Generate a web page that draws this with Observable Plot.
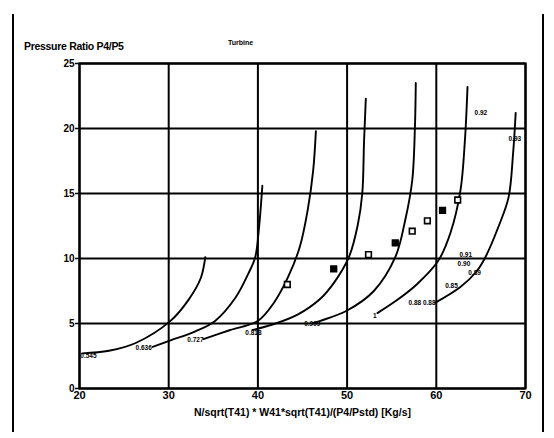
<!DOCTYPE html>
<html>
<head>
<meta charset="utf-8">
<script src="https://cdn.jsdelivr.net/npm/d3@7"></script>
<script src="https://cdn.jsdelivr.net/npm/@observablehq/plot@0.6"></script>
<style>
  html, body { margin: 0; padding: 0; background: #fff; }
  #wrap { position: relative; width: 554px; height: 438px; overflow: hidden; font-family: "Liberation Sans Narrow", "Liberation Sans", Arial, sans-serif; }
  #border { position: absolute; left: 12px; top: 14px; width: 532px; height: 418px; border-left: 2px solid #000; border-right: 2px solid #000; box-sizing: border-box; }
  #title { position: absolute; left: 24px; top: 40px; font-size: 10.5px; font-weight: bold; color: #000; letter-spacing: -0.3px; }
  #sub { position: absolute; left: 228px; top: 39px; font-size: 7px; font-weight: bold; color: #000; }
  #chart { position: absolute; left: 0; top: 0; }
</style>
</head>
<body>
<div id="wrap">
  <div id="border"></div>
  <div id="chart"></div>
  <div id="title">Pressure Ratio P4/P5</div>
  <div id="sub">Turbine</div>
</div>
<script>
// Speed lines (corrected speed)
const curve0545X = [20.3, 23.3, 26.3, 30.2, 32.2, 33.6, 34.1];
const curve0545Y = [2.7, 2.9, 3.5, 5.2, 6.8, 8.5, 10.1];
const curve0636X = [28.2, 30.2, 33.0, 35.2, 37.5, 38.9, 39.7, 40.1, 40.5];
const curve0636Y = [3.2, 3.7, 4.4, 5.2, 7.0, 8.8, 10.1, 12.2, 15.6];
const curve0727X = [33.9, 36.9, 40.0, 41.8, 43.4, 44.7, 45.6, 46.2, 46.5];
const curve0727Y = [3.8, 4.5, 5.2, 6.6, 8.6, 10.9, 13.8, 16.8, 19.8];
const curve0818X = [39.4, 42.0, 44.5, 47.0, 48.6, 50.2, 51.2, 51.7, 51.9, 52.1];
const curve0818Y = [4.5, 5.0, 5.7, 6.9, 8.2, 10.1, 12.6, 15.0, 19.0, 22.3];
const curve0909X = [46.1, 47.0, 50.0, 53.0, 55.4, 56.5, 57.3, 57.6, 57.7];
const curve0909Y = [5.0, 5.2, 6.0, 7.5, 10.1, 12.9, 16.0, 20.0, 23.5];
const curve1000X = [53.4, 55.6, 57.8, 60.2, 61.6, 62.7, 63.2, 63.5];
const curve1000Y = [5.8, 6.8, 8.0, 9.8, 12.0, 15.2, 19.0, 23.2];
const curve1090X = [59.9, 62.7, 64.5, 65.5, 67.0, 68.1, 68.6, 68.9];
const curve1090Y = [6.6, 7.8, 9.0, 10.1, 12.5, 14.7, 18.0, 21.2];

// Curve labels
const labelText = ["0.545", "0.636", "0.727", "0.818", "0.909", "1", "0.88 0.88", "0.85", "0.89", "0.90", "0.91", "0.92", "0.93"];
const labelX = [21.0, 27.2, 33.0, 39.5, 46.1, 53.1, 58.4, 61.7, 64.3, 63.1, 63.3, 65.0, 68.8];
const labelY = [2.5, 3.1, 3.7, 4.3, 5.0, 5.6, 6.6, 7.9, 8.9, 9.6, 10.3, 21.2, 19.2];

// Measured operating points
const ptX = [43.3, 48.5, 52.4, 55.4, 57.3, 59.0, 60.7, 62.4];
const ptY = [8.0, 9.2, 10.3, 11.2, 12.1, 12.9, 13.7, 14.5];
const ptFilled = [false, true, false, true, false, false, true, false];

// Axis ticks
const xTicks = [20, 30, 40, 50, 60, 70];
const yTicks = [0, 5, 10, 15, 20, 25];

const curves = [
  [curve0545X, curve0545Y], [curve0636X, curve0636Y], [curve0727X, curve0727Y],
  [curve0818X, curve0818Y], [curve0909X, curve0909Y], [curve1000X, curve1000Y],
  [curve1090X, curve1090Y]
];
const lineData = curves.flatMap(([xs, ys], i) => xs.map((x, j) => ({curve: i, x, y: ys[j]})));
const labels = labelText.map((t, i) => ({t, x: labelX[i], y: labelY[i]}));
const pts = ptX.map((x, i) => ({x, y: ptY[i], f: ptFilled[i]}));

const font = '"Liberation Sans Narrow", "Liberation Sans", Arial, sans-serif';

const chart = Plot.plot({
  width: 554,
  height: 438,
  marginLeft: 79,
  marginRight: 29,
  marginTop: 63,
  marginBottom: 50,
  style: {fontFamily: font, background: "transparent", color: "#000"},
  x: {domain: [20, 70], ticks: xTicks, tickSize: 0, tickPadding: 4, label: null},
  y: {domain: [0, 25], ticks: yTicks, tickSize: 4, tickPadding: 1, label: null},
  marks: [
    Plot.gridX(xTicks, {stroke: "#000", strokeOpacity: 1, strokeWidth: 2}),
    Plot.gridY(yTicks, {stroke: "#000", strokeOpacity: 1, strokeWidth: 2}),
    Plot.frame({stroke: "#000", strokeWidth: 2.2}),
    Plot.axisX({ticks: xTicks, tickSize: 0, tickPadding: 3, fontSize: 11, fontWeight: "bold", label: null}),
    Plot.axisY({ticks: yTicks, tickSize: 4, tickPadding: 1, fontSize: 10, fontWeight: "bold", label: null, strokeWidth: 1.5}),
    Plot.line(lineData, {x: "x", y: "y", z: "curve", curve: "catmull-rom", stroke: "#000", strokeWidth: 1.9}),
    Plot.dot(pts, {x: "x", y: "y", symbol: "square", r: 3.2, stroke: "#000", strokeWidth: 1.6, fill: d => d.f ? "#000" : "#fff"}),
    Plot.text(labels, {x: "x", y: "y", text: "t", fontSize: 6.5, fontWeight: "bold", fill: "#000"}),
    Plot.text(["N/sqrt(T41) * W41*sqrt(T41)/(P4/Pstd) [Kg/s]"], {frameAnchor: "bottom", dy: 27, fontSize: 10.5, fontWeight: "bold", fill: "#000"})
  ]
});
document.getElementById("chart").appendChild(chart);
</script>
</body>
</html>
